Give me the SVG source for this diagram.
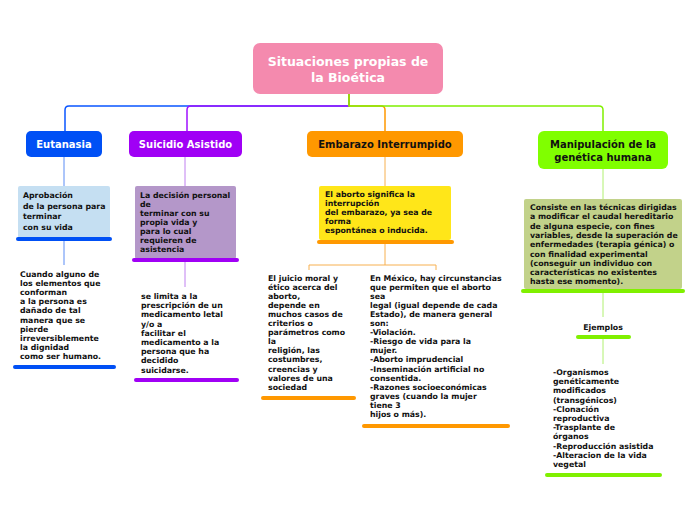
<svg xmlns="http://www.w3.org/2000/svg" width="696" height="520" viewBox="0 0 696 520">
<style>
.t{font-family:"DejaVu Sans",Verdana,sans-serif;font-weight:bold;font-size:7.8px;fill:#111}
.h{font-family:"DejaVu Sans",Verdana,sans-serif;font-weight:bold;font-size:10px;text-anchor:middle}
.c{fill:none;stroke-width:1.5;stroke-linejoin:round}
.u{stroke-width:4;stroke-linecap:round}
</style>
<rect width="696" height="520" fill="#fff"/>
<g id="connectors">
<path class="c" stroke="#0a55ff" d="M349,94 V106 H69 Q65,106 65,110 V131"/>
<path class="c" stroke="#a010ff" d="M349,94 V106 H191 Q187,106 187,110 V131"/>
<path class="c" stroke="#ff9800" d="M349,94 V106 H381 Q385,106 385,110 V131"/>
<path class="c" stroke="#80f000" d="M349,94 V106 H599 Q603,106 603,110 V131"/>
<path fill="none" stroke="#5a8cf5" stroke-width="1" d="M64,157 V186 M64,241 V265"/>
<path fill="none" stroke="#c080f0" stroke-width="1" d="M185,157 V186 M185,262 V287"/>
<path fill="none" stroke="#f7b050" stroke-width="1" d="M385,157 V186 M385,244 V265 M309,270 V265 H436 V270"/>
<path fill="none" stroke="#b0f070" stroke-width="1" d="M603,169 V199 M603,293 V317 M603,339 V364"/>
</g>
<g id="root">
<rect x="253" y="43" width="190" height="51" rx="7" fill="#f48aae"/>
<text x="348" y="66" font-family="DejaVu Sans,sans-serif" font-weight="bold" font-size="12.5" fill="#fff" text-anchor="middle">Situaciones propias de</text>
<text x="348" y="82" font-family="DejaVu Sans,sans-serif" font-weight="bold" font-size="12.5" fill="#fff" text-anchor="middle">la Bioética</text>
</g>
<g id="eutanasia">
<rect x="26" y="131" width="76" height="26" rx="5" fill="#0050f5"/>
<text class="h" x="64" y="148" fill="#fff">Eutanasia</text>
</g>
<g id="suicidio">
<rect x="129" y="131" width="113" height="26" rx="5" fill="#a000f5"/>
<text class="h" x="185.5" y="148" fill="#fff">Suicidio Asistido</text>
</g>
<g id="embarazo">
<rect x="307" y="131" width="156" height="26" rx="5" fill="#ff9800"/>
<text class="h" x="385" y="148" fill="#111">Embarazo Interrumpido</text>
</g>
<g id="manipulacion">
<rect x="538" y="131" width="130" height="38" rx="6" fill="#80ff00"/>
<text class="h" x="603" y="148" fill="#111">Manipulación de la</text>
<text class="h" x="603" y="161" fill="#111">genética humana</text>
</g>
<g id="eut-def">
<rect x="18" y="186" width="92" height="52" rx="2" fill="#c5dff2"/>
<line class="u" x1="18" y1="239" x2="110" y2="239" stroke="#0050f5"/>
<text class="t" x="23"><tspan x="23" y="198">Aprobación</tspan><tspan x="23" y="208.5">de la persona para</tspan><tspan x="23" y="219">terminar</tspan><tspan x="23" y="229.5">con su vida</tspan></text>
</g>
<g id="eut-desc">
<text class="t"><tspan x="20" y="276.5">Cuando alguno de</tspan><tspan x="20" y="285.7">los elementos que</tspan><tspan x="20" y="294.9">conforman</tspan><tspan x="20" y="304.1">a la persona es</tspan><tspan x="20" y="313.3">dañado de tal</tspan><tspan x="20" y="322.5">manera que se</tspan><tspan x="20" y="331.7">pierde</tspan><tspan x="20" y="340.9">irreversiblemente</tspan><tspan x="20" y="350.1">la dignidad</tspan><tspan x="20" y="359.3">como ser humano.</tspan></text>
<line class="u" x1="15" y1="367" x2="114" y2="367" stroke="#0050f5"/>
</g>
<g id="sui-def">
<rect x="135" y="186" width="101" height="73" rx="2" fill="#b497c9"/>
<line class="u" x1="134" y1="260" x2="237" y2="260" stroke="#a000f5"/>
<text class="t"><tspan x="140" y="197.5">La decisión personal</tspan><tspan x="140" y="206.5">de</tspan><tspan x="140" y="215.5">terminar con su</tspan><tspan x="140" y="224.5">propia vida y</tspan><tspan x="140" y="233.5">para lo cual</tspan><tspan x="140" y="242.5">requieren de</tspan><tspan x="140" y="251.5">asistencia</tspan></text>
</g>
<g id="sui-desc">
<text class="t"><tspan x="141" y="299">se limita a la</tspan><tspan x="141" y="308.2">prescripción de un</tspan><tspan x="141" y="317.4">medicamento letal</tspan><tspan x="141" y="326.6">y/o a</tspan><tspan x="141" y="335.8">facilitar el</tspan><tspan x="141" y="345">medicamento a la</tspan><tspan x="141" y="354.2">persona que ha</tspan><tspan x="141" y="363.4">decidido</tspan><tspan x="141" y="372.6">suicidarse.</tspan></text>
<line class="u" x1="136" y1="380" x2="237" y2="380" stroke="#a000f5"/>
</g>
<g id="emb-def">
<rect x="319" y="186" width="132" height="54" rx="2" fill="#ffe619"/>
<line class="u" x1="319" y1="242" x2="452" y2="242" stroke="#ff9800"/>
<text class="t"><tspan x="325" y="197">El aborto significa la</tspan><tspan x="325" y="206">interrupción</tspan><tspan x="325" y="215">del embarazo, ya sea de</tspan><tspan x="325" y="224">forma</tspan><tspan x="325" y="233">espontánea o inducida.</tspan></text>
</g>
<g id="emb-juicio">
<text class="t"><tspan x="268" y="280.5">El juicio moral y</tspan><tspan x="268" y="289.6">ético acerca del</tspan><tspan x="268" y="298.7">aborto,</tspan><tspan x="268" y="307.8">depende en</tspan><tspan x="268" y="316.9">muchos casos de</tspan><tspan x="268" y="326">criterios o</tspan><tspan x="268" y="335.1">parámetros como</tspan><tspan x="268" y="344.2">la</tspan><tspan x="268" y="353.3">religión, las</tspan><tspan x="268" y="362.4">costumbres,</tspan><tspan x="268" y="371.5">creencias y</tspan><tspan x="268" y="380.6">valores de una</tspan><tspan x="268" y="389.7">sociedad</tspan></text>
<line class="u" x1="263" y1="398" x2="354" y2="398" stroke="#ff9800"/>
</g>
<g id="emb-mexico">
<text class="t"><tspan x="370" y="280.5">En México, hay circunstancias</tspan><tspan x="370" y="289.6">que permiten que el aborto</tspan><tspan x="370" y="298.7">sea</tspan><tspan x="370" y="307.8">legal (igual depende de cada</tspan><tspan x="370" y="316.9">Estado), de manera general</tspan><tspan x="370" y="326">son:</tspan><tspan x="370" y="335.1">-Violación.</tspan><tspan x="370" y="344.2">-Riesgo de vida para la</tspan><tspan x="370" y="353.3">mujer.</tspan><tspan x="370" y="362.4">-Aborto imprudencial</tspan><tspan x="370" y="371.5">-Inseminación artificial no</tspan><tspan x="370" y="380.6">consentida.</tspan><tspan x="370" y="389.7">-Razones socioeconómicas</tspan><tspan x="370" y="398.8">graves (cuando la mujer</tspan><tspan x="370" y="407.9">tiene 3</tspan><tspan x="370" y="417">hijos o más).</tspan></text>
<line class="u" x1="364" y1="426" x2="508" y2="426" stroke="#ff9800"/>
</g>
<g id="man-def">
<rect x="524" y="199" width="158" height="90" rx="2" fill="#c2d28a"/>
<line class="u" x1="523" y1="291" x2="683" y2="291" stroke="#80f000"/>
<text class="t"><tspan x="530" y="210">Consiste en las técnicas dirigidas</tspan><tspan x="530" y="219.3">a modificar el caudal hereditario</tspan><tspan x="530" y="228.6">de alguna especie, con fines</tspan><tspan x="530" y="237.9">variables, desde la superación de</tspan><tspan x="530" y="247.2">enfermedades (terapia génica) o</tspan><tspan x="530" y="256.5">con finalidad experimental</tspan><tspan x="530" y="265.8">(conseguir un individuo con</tspan><tspan x="530" y="275.1">características no existentes</tspan><tspan x="530" y="284.4">hasta ese momento).</tspan></text>
</g>
<g id="ejemplos">
<text class="t" x="603" y="330" text-anchor="middle">Ejemplos</text>
<line class="u" x1="578" y1="337" x2="629" y2="337" stroke="#80f000"/>
</g>
<g id="ejemplos-list">
<text class="t"><tspan x="553" y="375">-Organismos</tspan><tspan x="553" y="384.2">genéticamente</tspan><tspan x="553" y="393.4">modificados</tspan><tspan x="553" y="402.6">(transgénicos)</tspan><tspan x="553" y="411.8">-Clonación</tspan><tspan x="553" y="421">reproductiva</tspan><tspan x="553" y="430.2">-Trasplante de</tspan><tspan x="553" y="439.4">órganos</tspan><tspan x="553" y="448.6">-Reproducción asistida</tspan><tspan x="553" y="457.8">-Alteracion de la vida</tspan><tspan x="553" y="467">vegetal</tspan></text>
<line class="u" x1="547" y1="475" x2="660" y2="475" stroke="#80f000"/>
</g>
</svg>
